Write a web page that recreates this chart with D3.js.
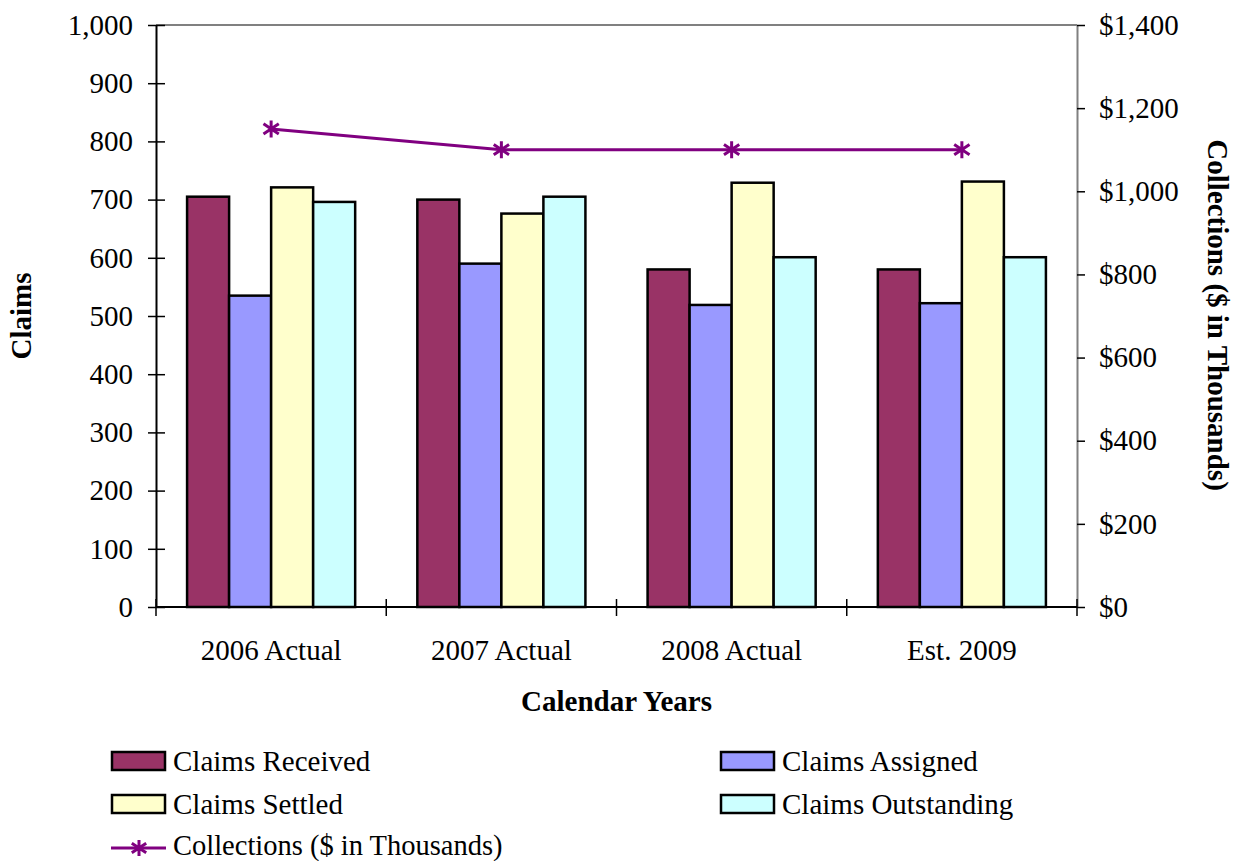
<!DOCTYPE html>
<html>
<head>
<meta charset="utf-8">
<script src="https://cdn.jsdelivr.net/npm/d3@7"></script>
<style>
  html, body { margin: 0; padding: 0; background: #fff; }
  svg { display: block; font-family: "Liberation Serif", "Times New Roman", serif; }
</style>
</head>
<body>
<svg id="chart" width="1235" height="861"></svg>
<script>
// Chart data
const categories = ["2006 Actual", "2007 Actual", "2008 Actual", "Est. 2009"];
const seriesNames = ["Claims Received", "Claims Assigned", "Claims Settled", "Claims Outstanding"];
const claimsReceived = [705, 700, 580, 580];
const claimsAssigned = [535, 590, 519, 522];
const claimsSettled = [721, 676, 729, 731];
const claimsOutstanding = [696, 705, 601, 601];
const collections = [1150, 1100, 1100, 1100];
const leftTicks = [0, 100, 200, 300, 400, 500, 600, 700, 800, 900, 1000];
const rightTicks = [0, 200, 400, 600, 800, 1000, 1200, 1400];
const lineName = "Collections ($ in Thousands)";

const seriesValues = [claimsReceived, claimsAssigned, claimsSettled, claimsOutstanding];
const seriesColors = ["#993366", "#9999FF", "#FFFFCC", "#CCFFFF"];
const lineColor = "#800080";

const svg = d3.select("#chart");
const plotL = 156, plotR = 1077, plotT = 25, plotB = 607;
const fs = 29;

const x0 = d3.scaleBand().domain(categories).range([plotL, plotR])
  .paddingInner(0.27).paddingOuter(0.135);
const x1 = d3.scaleBand().domain(seriesNames).range([0, x0.bandwidth()]);
const yL = d3.scaleLinear().domain([0, 1000]).range([plotB, plotT]);
const yR = d3.scaleLinear().domain([0, 1400]).range([plotB, plotT]);

// Plot-area top border
svg.append("line").attr("x1", plotL).attr("x2", plotR).attr("y1", plotT).attr("y2", plotT)
  .attr("stroke", "#808080").attr("stroke-width", 2);

// Bars
categories.forEach((c, ci) => {
  seriesNames.forEach((s, si) => {
    const v = seriesValues[si][ci];
    svg.append("rect")
      .attr("x", x0(c) + x1(s))
      .attr("y", yL(v))
      .attr("width", x1.bandwidth())
      .attr("height", yL(0) - yL(v))
      .attr("fill", seriesColors[si])
      .attr("stroke", "#000")
      .attr("stroke-width", 2.5);
  });
});

// Left axis
const gL = svg.append("g").attr("transform", `translate(${plotL},0)`)
  .call(d3.axisLeft(yL).tickValues(leftTicks).tickFormat(d3.format(",")).tickSizeInner(8).tickSizeOuter(0).tickPadding(15));
gL.select(".domain").attr("stroke", "#000").attr("stroke-width", 2);
gL.selectAll(".tick line").attr("x2", 9).attr("x1", -8).attr("stroke", "#000").attr("stroke-width", 1.5);
gL.selectAll(".tick text").attr("font-size", fs).attr("font-family", "Liberation Serif").attr("fill", "#000");

// Right axis
const gR = svg.append("g").attr("transform", `translate(${plotR},0)`)
  .call(d3.axisRight(yR).tickValues(rightTicks).tickFormat(d => "$" + d3.format(",")(d)).tickSizeInner(8).tickSizeOuter(0).tickPadding(14));
gR.select(".domain").attr("stroke", "#808080").attr("stroke-width", 2);
gR.selectAll(".tick line").attr("stroke", "#000").attr("stroke-width", 1.5);
gR.selectAll(".tick text").attr("font-size", fs).attr("font-family", "Liberation Serif").attr("fill", "#000");

// Bottom axis with ticks between categories
svg.append("line").attr("x1", plotL).attr("x2", plotR).attr("y1", plotB).attr("y2", plotB)
  .attr("stroke", "#000").attr("stroke-width", 2);
const boundaries = categories.map(c => x0(c) - x0.step() * x0.paddingOuter()).concat([plotR]);
svg.selectAll(".xtick").data(boundaries).enter().append("line")
  .attr("x1", d => d).attr("x2", d => d)
  .attr("y1", plotB - 8).attr("y2", plotB + 9)
  .attr("stroke", "#000").attr("stroke-width", 1.5);
svg.selectAll(".xlab").data(categories).enter().append("text")
  .attr("x", d => x0(d) + x0.bandwidth() / 2)
  .attr("y", 660)
  .attr("text-anchor", "middle")
  .attr("font-size", fs)
  .text(d => d);

// Collections line
const line = d3.line().x((d, i) => x0(categories[i]) + x0.bandwidth() / 2).y(d => yR(d));
svg.append("path").datum(collections).attr("d", line)
  .attr("fill", "none").attr("stroke", lineColor).attr("stroke-width", 3);

function asterisk(g, cx, cy, r) {
  const p = `M${cx},${cy - r}L${cx},${cy + r}M${cx - r * 0.9},${cy - r * 0.6}L${cx + r * 0.9},${cy + r * 0.6}M${cx - r * 0.9},${cy + r * 0.6}L${cx + r * 0.9},${cy - r * 0.6}`;
  g.append("path").attr("d", p).attr("stroke", lineColor).attr("stroke-width", 3).attr("fill", "none");
}
collections.forEach((v, i) => asterisk(svg, x0(categories[i]) + x0.bandwidth() / 2, yR(v), 8.5));

// Axis titles
svg.append("text").attr("transform", `translate(31,316) rotate(-90)`)
  .attr("text-anchor", "middle").attr("font-size", fs).attr("font-weight", "bold").text("Claims");
svg.append("text").attr("transform", `translate(1208,315) rotate(90)`)
  .attr("text-anchor", "middle").attr("font-size", fs).attr("font-weight", "bold").text(lineName);
svg.append("text").attr("x", (plotL + plotR) / 2).attr("y", 711)
  .attr("text-anchor", "middle").attr("font-size", fs).attr("font-weight", "bold").text("Calendar Years");

// Legend
const legendPos = [[112, 761], [721, 761], [112, 804], [721, 804]];
seriesNames.forEach((s, i) => {
  const [lx, ly] = legendPos[i];
  svg.append("rect").attr("x", lx).attr("y", ly - 9).attr("width", 53).attr("height", 18)
    .attr("fill", seriesColors[i]).attr("stroke", "#000").attr("stroke-width", 2.5);
  svg.append("text").attr("x", lx + 61).attr("y", ly + 10).attr("font-size", fs).text(s);
});
svg.append("line").attr("x1", 111).attr("x2", 166).attr("y1", 848).attr("y2", 848)
  .attr("stroke", lineColor).attr("stroke-width", 3);
asterisk(svg, 139, 848, 8);
svg.append("text").attr("x", 173).attr("y", 855).attr("font-size", 28.5).text(lineName);
</script>
</body>
</html>
